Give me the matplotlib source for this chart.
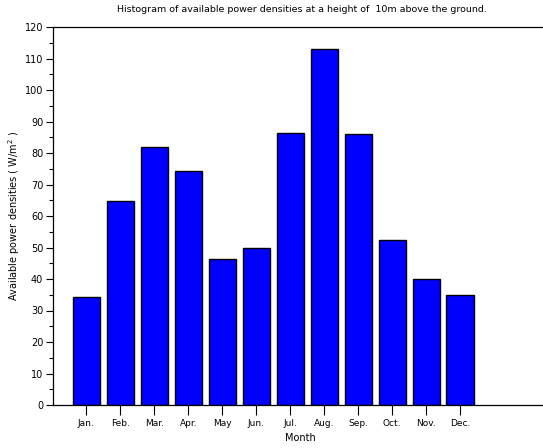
import matplotlib
matplotlib.use("Agg")
import matplotlib.pyplot as plt
from matplotlib.ticker import MultipleLocator

months = ["Jan.", "Feb.", "Mar.", "Apr.", "May", "Jun.", "Jul.", "Aug.", "Sep.", "Oct.", "Nov.", "Dec."]
power = [34.3, 64.7, 81.8, 74.3, 46.5, 49.7, 86.2, 113.0, 85.9, 52.5, 40.0, 35.0]
positions = list(range(1, 13))

plt.rcParams['font.family'] = ['DejaVu Sans']

fig = plt.figure(figsize=(5.43, 4.48), dpi=100)
ax = fig.add_axes([53/543, 1 - 405/448, 1 - 53/543 + 0.01, (405 - 27)/448])

ax.bar(positions, power, width=0.8, color='#0000ff', edgecolor='black', linewidth=1.0)

ax.set_xlim(0.02, 14.6)
ax.set_ylim(0, 120)
ax.set_xticks(positions)
ax.set_xticklabels(months, fontsize=6.5)
ax.yaxis.set_major_locator(MultipleLocator(10))
ax.yaxis.set_minor_locator(MultipleLocator(5))
ax.tick_params(axis='y', which='major', direction='out', length=5, labelsize=7, width=0.8, pad=2)
ax.tick_params(axis='y', which='minor', direction='out', length=3, width=0.8)
ax.tick_params(axis='x', which='major', direction='out', length=7, labelsize=6.5, width=0.8, pad=3)
for s in ax.spines.values():
    s.set_linewidth(0.9)

ax.set_xlabel("Month", fontsize=7, labelpad=4)
ax.set_ylabel("Available power densities ( W/m$^2$ )", fontsize=7, labelpad=2)
fig.text(302/543, 1 - 10/448, "Histogram of available power densities at a height of  10m above the ground.",
         ha='center', va='center', fontsize=6.8)

fig.savefig("out.png", dpi=100)
